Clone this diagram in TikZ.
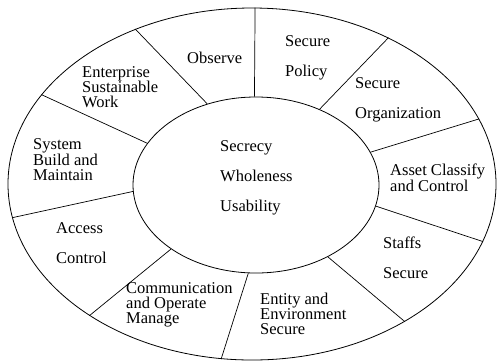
\documentclass[tikz,border=0pt]{standalone}
\usepackage{fontspec}
\setmainfont{Liberation Serif}
\usepackage{tikz}
\usetikzlibrary{shapes.geometric, positioning}

\begin{document}
\begin{tikzpicture}[
    x=1pt, y=-1pt,
    ring/.style={ellipse, draw, line width=0.8pt, inner sep=0pt},
    part/.style={line width=0.7pt},
    lbl/.style={anchor=west, align=left, inner sep=0pt, font=\fontsize{16.5}{15}\selectfont},
    widelbl/.style={lbl, font=\fontsize{16.5}{30}\selectfont}
]
    \useasboundingbox (0,0) rectangle (497,360);

    % two rings
    \node[ring, minimum width=488pt, minimum height=352pt] (outer) at (252,184) {};
    \node[ring, minimum width=246pt, minimum height=176pt] (inner) at (256,185) {};

    % dividing lines between the sectors
    \draw[part] (inner.121) -- (outer.127);
    \draw[part] (inner.91) -- (outer.89);
    \draw[part] (inner.50) -- (outer.47);
    \draw[part] (inner.16) -- (outer.16);
    \draw[part] (inner.-10) -- (outer.-14);
    \draw[part] (inner.-45) -- (outer.-42);
    \draw[part] (inner.265) -- (outer.260);
    \draw[part] (inner.217) -- (outer.219);
    \draw[part] (inner.183) -- (outer.188);
    \draw[part] (inner.159) -- (outer.157);

    % centre
    \node[widelbl] (core) at (220,178) {Secrecy\\Wholeness\\Usability};

    % sectors, clockwise from the top
    \node[lbl] (observe) at (187,58) {Observe};
    \node[widelbl] (policy) at (285,58) {Secure\\Policy};
    \node[widelbl] (org) at (355,100) {Secure\\Organization};
    \node[lbl] (asset) at (390,178) {Asset Classify\\and Control};
    \node[widelbl] (staffs) at (383,258) {Staffs\\Secure};
    \node[lbl] (entity) at (260,314) {Entity and\\Environment\\Secure};
    \node[lbl] (comm) at (126,305) {Communication\\and Operate\\Manage};
    \node[widelbl] (access) at (56,243) {Access\\Control};
    \node[lbl] (sysbuild) at (33,160) {System\\Build and\\Maintain};
    \node[lbl] (enterprise) at (82,87) {Enterprise\\Sustainable\\Work};
\end{tikzpicture}
\end{document}
